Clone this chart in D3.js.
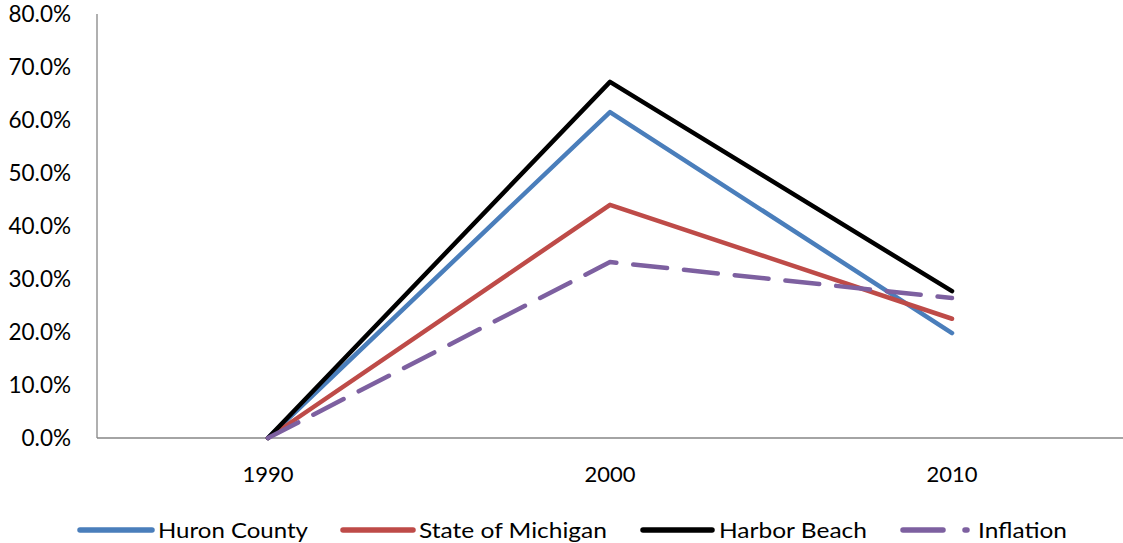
<!DOCTYPE html>
<html>
<head>
<meta charset="utf-8">
<script src="https://cdn.jsdelivr.net/npm/d3@7"></script>
<style>
  html, body { margin: 0; padding: 0; background: #fff; }
  svg { display: block; }
  text { font-family: Lato, "Open Sans", sans-serif; fill: #000; }
</style>
</head>
<body>
<svg id="chart" width="1123" height="543"></svg>
<script>
// Percent change by decade
const years = ["1990", "2000", "2010"];
const huronCounty = [0.0, 0.615, 0.198];
const stateOfMichigan = [0.0, 0.440, 0.225];
const harborBeach = [0.0, 0.672, 0.277];
const inflation = [0.0, 0.332, 0.264];
const yTicks = [0, 0.1, 0.2, 0.3, 0.4, 0.5, 0.6, 0.7, 0.8];

const series = [
  { name: "Huron County", values: huronCounty, color: "#4a7ebb", dash: null },
  { name: "State of Michigan", values: stateOfMichigan, color: "#be4b48", dash: null },
  { name: "Harbor Beach", values: harborBeach, color: "#000000", dash: null },
  { name: "Inflation", values: inflation, color: "#7d60a0", dash: "34,17" }
];

const svg = d3.select("#chart");
const plotLeft = 97, plotRight = 1123, plotTop = 14, plotBottom = 438;

const x = d3.scaleBand().domain(years).range([plotLeft, plotRight]);
const y = d3.scaleLinear().domain([0, 0.8]).range([plotBottom, plotTop]);

// Y axis labels
svg.append("g").selectAll("text").data(yTicks).join("text")
  .attr("x", 71).attr("y", d => y(d))
  .attr("dy", "0.36em").attr("text-anchor", "end")
  .style("font-size", "22.5px")
  .text(d => d3.format(".1%")(d));

// Axis lines
svg.append("line").attr("x1", plotLeft).attr("x2", plotLeft).attr("y1", plotTop).attr("y2", plotBottom)
  .attr("stroke", "#868686").attr("stroke-width", 1.3);
svg.append("line").attr("x1", plotLeft).attr("x2", plotRight).attr("y1", plotBottom).attr("y2", plotBottom)
  .attr("stroke", "#868686").attr("stroke-width", 1.3);

// X labels
svg.append("g").selectAll("text").data(years).join("text")
  .attr("x", d => x(d) + x.bandwidth() / 2).attr("y", 482)
  .attr("text-anchor", "middle").style("font-size", "22px")
  .text(d => d);

// Lines
const line = d3.line()
  .x((d, i) => x(years[i]) + x.bandwidth() / 2)
  .y(d => y(d));

svg.append("g").selectAll("path").data(series).join("path")
  .attr("d", d => line(d.values))
  .attr("fill", "none")
  .attr("stroke", d => d.color)
  .attr("stroke-width", 4.5)
  .attr("stroke-linejoin", "round")
  .attr("stroke-linecap", "round")
  .attr("stroke-dasharray", d => d.dash);

// Legend
const legendItems = [
  { x0: 80, x1: 152, tx: 158, tw: 150 },
  { x0: 343, x1: 413, tx: 419, tw: 188 },
  { x0: 643, x1: 712, tx: 719, tw: 148 },
  { x0: 903, x1: 967, tx: 978, tw: 89 }
];
const lg = svg.append("g").selectAll("g").data(series).join("g");
lg.each(function (s, i) {
  const it = legendItems[i];
  const g = d3.select(this);
  g.append("line").attr("x1", it.x0).attr("x2", it.x1).attr("y1", 530).attr("y2", 530)
    .attr("stroke", s.color).attr("stroke-width", 5.5).attr("stroke-linecap", "round")
    .attr("stroke-dasharray", s.dash ? "40,22" : null);
  g.append("text").attr("x", it.tx).attr("y", 538)
    .style("font-size", "22px")
    .attr("textLength", it.tw).attr("lengthAdjust", "spacingAndGlyphs")
    .text(s.name);
});
</script>
</body>
</html>
